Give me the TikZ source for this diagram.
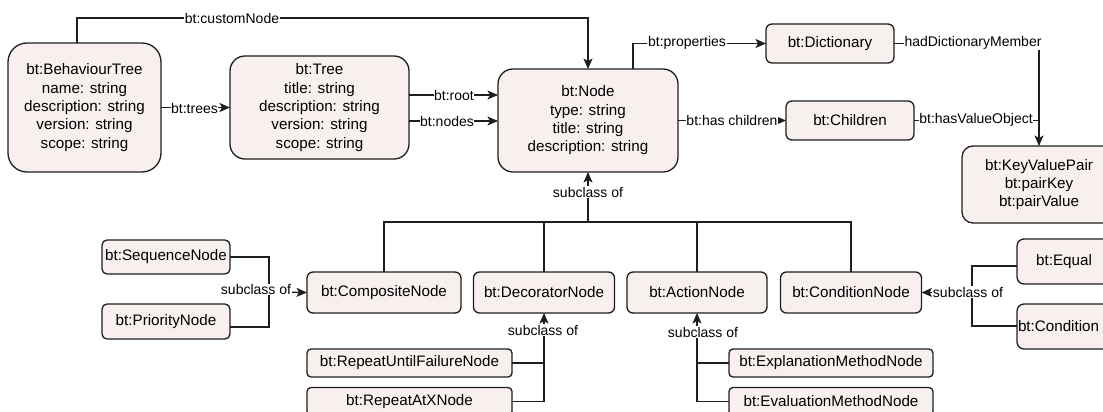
\documentclass[tikz,border=0pt]{standalone}
\usepackage{fontspec}
\setmainfont{Liberation Sans}
\usetikzlibrary{arrows.meta}
\definecolor{boxfill}{RGB}{248,240,238}
\definecolor{linec}{RGB}{30,30,30}
\begin{document}
\begin{tikzpicture}[x=1pt,y=-1pt,
  box/.style={draw=linec, line width=1.3pt, fill=boxfill, inner sep=0pt, outer sep=0pt,
    align=center, font=\fontsize{15.2}{18.3}\selectfont},
  ln/.style={draw=linec, line width=1.3pt},
  arr/.style={ln, -{Stealth[length=10.5pt,width=9pt,inset=2.5pt]}},
  lbl/.style={fill=white, inner sep=0.6pt, font=\fontsize{14}{16}\selectfont}]
\useasboundingbox (0,0) rectangle (1103,412);

% nodes
\node[box, minimum width=153, minimum height=129, rounded corners=19pt] (bt) at (84.5,107.5)
  {bt:BehaviourTree\\name: string\\description: string\\version: string\\scope: string};
\node[box, minimum width=179, minimum height=103, rounded corners=15pt] (tree) at (319.5,107.5)
  {bt:Tree\\title: string\\description: string\\version: string\\scope: string};
\node[box, minimum width=180, minimum height=103, rounded corners=15pt] (node) at (588,120.5)
  {bt:Node\\type: string\\title: string\\description: string};
\node[box, minimum width=128, minimum height=39, rounded corners=6pt] (dict) at (830,43.5) {bt:Dictionary};
\node[box, minimum width=128, minimum height=39, rounded corners=6pt] (child) at (850,120.5) {bt:Children};
\node[box, minimum width=154, minimum height=77, rounded corners=11pt] (kvp) at (1039,184.5)
  {bt:KeyValuePair\\bt:pairKey\\bt:pairValue};
\node[box, minimum width=154, minimum height=41, rounded corners=6pt] (comp) at (384,292.5) {bt:CompositeNode};
\node[box, minimum width=141, minimum height=41, rounded corners=6pt] (deco) at (544,292.5) {bt:DecoratorNode};
\node[box, minimum width=140, minimum height=41, rounded corners=6pt] (action) at (697,292.5) {bt:ActionNode};
\node[box, minimum width=141, minimum height=41, rounded corners=6pt] (cond) at (851,292.5) {bt:ConditionNode};
\node[box, minimum width=128, minimum height=34, rounded corners=5pt] (seq) at (166,257) {bt:SequenceNode};
\node[box, minimum width=128, minimum height=35, rounded corners=5pt] (prio) at (166,321.5) {bt:PriorityNode};
\node[box, minimum width=205, minimum height=28, rounded corners=4pt] (rutf) at (409.5,363) {bt:RepeatUntilFailureNode};
\node[box, minimum width=205, minimum height=28, rounded corners=4pt] (ratx) at (409.5,401.5) {bt:RepeatAtXNode};
\node[box, minimum width=204, minimum height=28, rounded corners=4pt] (expl) at (831,363) {bt:ExplanationMethodNode};
\node[box, minimum width=204, minimum height=28, rounded corners=4pt] (eval) at (831,401.5) {bt:EvaluationMethodNode};
\node[box, minimum width=94, minimum height=45, rounded corners=7pt] (equal) at (1064,261.5) {bt:Equal};
\node[box, minimum height=45, rounded corners=7pt, anchor=west, align=left,
  text width=98pt, inner xsep=1pt] (condx) at (1017,326.5) {bt:Condition};

\coordinate (jl) at (269,292);
\coordinate (jr) at (972,292);

% connectors
\draw[arr] ([xshift=-7.5pt]bt.north) -- ++(0,-25) -| (node.north);
\draw[arr] (bt.east) -- (tree.west);
\draw[arr] (tree.east |- 0,95) -- (node.west |- 0,95);
\draw[arr] (tree.east |- 0,121) -- (node.west |- 0,121);
\draw[arr] ([xshift=45pt]node.north) |- (dict.west);
\draw[arr] (node.east) -- (child.west);
\draw[arr] (dict.east) -| (kvp.north);
\draw[ln] (child.east) -- (child.east -| kvp.north);

\draw[ln] (comp.north) -- (comp.north |- 0,222) -- (cond.north |- 0,222) -- (cond.north);
\draw[ln] (deco.north) -- (deco.north |- 0,222);
\draw[ln] (action.north) -- (action.north |- 0,222);
\draw[arr] (node.south |- 0,222) -- (node.south);

\draw[ln] (rutf.east) -- (rutf.east -| deco.south);
\draw[arr] (ratx.east) -| (deco.south);
\draw[ln] (expl.west) -- (expl.west -| action.south);
\draw[arr] (eval.west) -| (action.south);

\draw[ln] (seq.east) -| (jl);
\draw[ln] (prio.east |- 0,327) -| (jl);
\draw[arr] (jl) -- (comp.west);

\draw[ln] (equal.west |- 0,266) -| (jr);
\draw[ln] (condx.west |- 0,326) -| (jr);
\draw[arr] (jr) -- (cond.east);

% labels
\node[lbl] (l1) at (232,18) {bt:customNode};
\node[lbl] (l2) at (194.5,108) {bt:trees};
\node[lbl] (l3) at (454,95) {bt:root};
\node[lbl] (l4) at (447,121) {bt:nodes};
\node[lbl] (l5) at (687,43) {bt:properties};
\node[lbl] (l6) at (732,120) {bt:has children};
\node[lbl] (l7) at (973,43) {hadDictionaryMember};
\node[lbl] (l8) at (976,120) {bt:hasValueObject};
\node[lbl] (l9) at (588,192) {subclass of};
\node[lbl] (l10) at (543,330) {subclass of};
\node[lbl] (l11) at (703,332) {subclass of};
\node[lbl] (l12) at (256,289.5) {subclass of};
\node[lbl] (l13) at (968,292) {subclass of};
\end{tikzpicture}
\end{document}
